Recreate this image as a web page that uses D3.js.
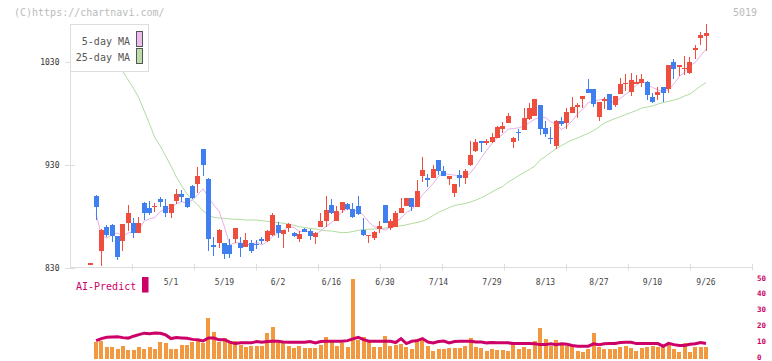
<!DOCTYPE html>
<html><head><meta charset="utf-8">
<script src="https://cdn.jsdelivr.net/npm/d3@7"></script>
<style>body{margin:0;background:#fff}svg{display:block}text{font-family:"DejaVu Sans Mono",monospace}</style>
</head><body><svg id="c" width="772" height="361"></svg>
<script>
const dates = ["4/9","4/10","4/11","4/14","4/15","4/16","4/17","4/18","4/21","4/22","4/23","4/24","4/25","4/28","4/30",
"5/1","5/2","5/7","5/8","5/9","5/12","5/13","5/14","5/15","5/16","5/19","5/20","5/21","5/22","5/23","5/26","5/27","5/28","5/29","5/30",
"6/2","6/3","6/4","6/5","6/6","6/9","6/10","6/11","6/12","6/13","6/16","6/17","6/18","6/19","6/20","6/23","6/24","6/25","6/26","6/27","6/30",
"7/1","7/2","7/3","7/4","7/7","7/8","7/9","7/10","7/11","7/14","7/15","7/16","7/17","7/18","7/22","7/23","7/24","7/25","7/28","7/29","7/30","7/31",
"8/1","8/4","8/5","8/6","8/7","8/8","8/12","8/13","8/14","8/15","8/18","8/19","8/20","8/21","8/22","8/25","8/26","8/27","8/28","8/29",
"9/1","9/2","9/3","9/4","9/5","9/8","9/9","9/10","9/11","9/12","9/16","9/17","9/18","9/19","9/22","9/24","9/25","9/26"];

const open = [832.8,899.9,846.8,869.5,871.7,861,856.5,874,873.7,864.3,893.4,888.5,889,896.7,890.2,
883.7,895.3,901.8,897.7,909.9,911.6,945.5,916.4,852.3,854,854,852.3,858.2,854.6,850.4,854.6,853.3,858.2,856.2,862,
871.7,863,868.5,864.3,858.2,867.9,865.9,860.4,870.1,875.6,891.2,876.1,886.3,892.1,887,890.2,866.9,861.5,858.8,867.9,891.2,
868.5,870.1,883.7,890.2,897.7,889.5,919.3,917.7,917.7,934.9,924.5,916.2,903.1,920.3,917.7,930,943.9,953.3,951.7,952.1,956.5,964.7,
971.1,952.8,962.3,964,974.4,977.9,988.3,966.3,956.5,948.7,972.7,971.1,980.9,986.6,994.1,1003.5,1003.5,976.9,992.4,998.9,
988.3,998.9,1009.5,1001.1,1008.6,1009.9,1010.9,995.7,998,1005.4,1003.8,1029.7,1025.5,1023.5,1019.1,1041.7,1053,1055.2];

const high = [834.6,900.5,867.5,871.7,872.7,861.5,873.2,890.7,878.3,879.2,893.8,895,893.4,899.4,896.7,
892.5,906.7,905.7,898.2,910.3,927.8,946,917,859.8,867.9,854.5,858.2,869,859.8,863.7,857.5,857,860.4,866.5,883.1,
875,867.2,874,865,866.2,868.5,867.9,864.6,883.7,899.9,896.7,890.2,894.5,893,893.4,900,878.5,862.5,865.5,875.6,891.5,
877.3,885.3,897.7,898.2,898,915.4,937.5,921,930,935.3,929,919.6,912,925.1,925.8,953.6,955,953.7,955.2,961.4,967.8,972,
980.8,957,964.7,985,990.5,994.5,988.7,972.7,967.2,973.5,976.3,985,996.3,990,997.4,1013.3,1004,991,995.7,999.3,
997.4,1014.2,1018.3,1019.6,1017.4,1018.3,1011.3,999.6,1006.1,1005.8,1027.5,1032.6,1027.5,1035.8,1035.2,1046.5,1059.5,1066.9];

const low = [832.8,876.6,832.2,859.8,855.7,837.8,846.8,866.4,859.5,864,876.6,881.5,884.4,889.2,879.8,
878.8,892.1,894.4,888,897,902.5,919.3,846.8,841.7,849.8,838.4,839.4,854,840.4,850,844.3,848.4,853.3,855.5,861.5,
858.8,849.8,865.2,860,855.6,864.5,857.2,853.3,869.8,870.1,882.8,875.8,883.7,886.5,878.8,881.8,861,854,857.2,864.3,873.4,
866.9,869.8,883.2,889.8,885.3,889,913.8,909,917.2,920.3,919.2,910.6,899.2,909,911.3,929.5,943,943,949.4,951.8,956,961,
970.5,946.8,953.6,963.5,974,977.5,959.1,956.9,950.4,945.2,968,964.7,980.5,975.9,985.6,1000,986.6,973,984.2,983,
986,998.5,1002.1,997,1008.2,1006,993.2,989.9,993.2,991.5,999.6,1013.3,1016.8,1017.4,1018.8,1032.6,1046.5,1041];

const close = [834.6,889.2,866.9,862,861,841,872.7,883.7,864.3,873.7,883.7,883.7,890,894,883.7,
892.1,901.8,899.2,888.9,897.7,919.3,930,858.2,850.4,866.9,843.3,843.6,868.5,849.8,857.2,846.8,852,856.2,865.9,881.5,
863.7,866.9,872.7,861.1,863,865.2,861.4,864.3,875.6,886.3,883.1,885.8,893.8,887.3,879.2,882.2,862,862,865.2,870.8,874,
875.9,883.1,888.5,897.7,889.5,904.8,925.1,915,925.8,924.5,919.6,919.3,911.6,917.7,924.2,939.7,952.1,951.7,953.3,957.5,967.2,968.2,
977.6,956.5,960.8,975.9,985.6,994.1,964.7,959.8,954.9,973.1,969.5,981.2,986.1,988.3,997,1000.2,989.2,990.7,994.1,983.4,
997,1008.6,1010,1012.5,1010.9,1013.2,998,991.5,1001.3,1000.2,1027.1,1023.2,1027.1,1024,1030.4,1043.4,1056.2,1058.4];

const ma5 = [null,882,862,859,
862.6,864.0,860.7,864.1,864.5,867.1,875.6,877.8,879.1,885.0,887.0,
888.7,892.3,894.2,893.1,895.9,901.4,907.0,898.8,891.1,885.0,869.8,852.5,854.5,854.4,852.5,853.2,854.9,852.4,855.6,860.5,
863.9,866.8,870.1,869.2,865.5,865.8,864.7,863.0,865.9,870.6,874.1,879.0,884.9,887.3,885.8,885.7,880.9,874.5,870.1,868.4,866.8,
869.6,873.8,878.5,883.8,886.9,892.7,901.1,906.4,912.0,919.0,922.0,920.8,920.2,918.5,918.5,922.5,929.1,937.1,944.2,950.9,956.4,959.6,
964.8,965.4,966.1,967.8,971.3,974.6,976.2,976.0,971.8,969.3,964.4,967.7,973.0,979.6,984.4,990.6,992.2,993.1,994.2,991.5,
990.9,994.8,998.6,1002.3,1007.8,1011.0,1008.9,1005.2,1003.0,1000.8,1003.6,1008.7,1015.8,1020.3,1026.4,1029.6,1036.2,1042.5];

const ma25 = [1056.2,1048.4,1040.7,1033.9,1028,1024.2,1020.8,1012.5,1004.3,995,982.4,969.8,956.2,948.4,938.7,
929,918.3,909.6,901.8,896,891.2,885.3,881.5,879.2,878.5,878.3,877.6,877.3,877.1,876.6,876.6,876.6,875.9,875.3,874.7,
874,873.4,872.7,871.3,870.1,869.3,868.5,867.9,866.9,866.2,865.9,865,864.3,864.5,865.4,866.6,867.2,867.6,867.9,868.3,868.8,
869.5,870.3,871,871.9,873.2,874.2,875.6,877.6,881,884.1,886.3,888.7,890.7,891.7,892.6,894.1,896,898.2,900.9,903.8,906.7,909.1,
913.5,916.4,919.8,922.7,925.6,929,934.9,938.3,942.2,946,948.9,951.8,954.3,956.2,958.6,960.6,963.5,966.9,970.8,973,
975.1,976.9,979,981,982.9,985.3,986.3,987.3,989.2,990.7,991.7,993.1,994.6,997,998.9,1002.8,1006.7,1010.1];

const volume = [null,840,875,560,560,460,625,425,425,560,475,560,475,840,775,
475,475,660,660,840,875,760,2010,1340,840,1010,790,875,675,590,625,625,625,1290,1575,
790,875,625,510,625,510,540,540,675,1075,925,625,760,590,3975,925,1075,875,590,590,1125,
625,675,740,590,475,975,910,625,390,475,475,525,525,525,625,1025,590,510,390,475,425,425,
375,840,475,590,475,875,1540,975,625,925,675,625,625,390,340,460,1290,560,475,475,
460,590,640,540,390,525,590,640,560,640,710,460,340,760,310,560,560,560];

const aiPredict = [null,10.6,11.9,12.7,12.9,13.1,12.5,12.2,13.4,14.4,15.3,15,15.4,15.2,14.2,
11.9,12.5,12.3,12.1,11.4,11.2,10.4,12.3,12.2,11.1,11.2,9.7,8.75,9.2,9.2,9.2,10,9.6,10,10.2,
10.2,9.7,9.6,9.6,9.6,9.6,10,9.2,10,10.2,10.2,10.2,10.2,10.6,11.7,12.7,11.2,10.2,10.2,10.2,10.2,
10.2,9.4,11.9,8.75,10.2,10.6,11.9,9.7,9.2,10,10.4,9.2,10,10.2,10.2,10.2,9.7,9.7,9.2,9.4,9.2,9.2,
9.2,8.75,8.75,8.75,8.75,8.6,8.1,8.1,8.6,8.1,8.6,8.3,7.5,7.1,7.1,7.1,8.6,8.1,8.6,8.75,
8.75,9.4,9.6,9.6,8.75,8.75,8.75,8.75,8.75,7.1,8.9,8.1,7.5,7.5,8.3,8.6,9.4,8.75];

const xLabels = ["5/1","5/19","6/2","6/16","6/30","7/14","7/29","8/13","8/27","9/10","9/26"];
const priceTicks = [830, 930, 1030];
const aiTicks = [0, 10, 20, 30, 40, 50];

const C = {up:"#ef4d3d", down:"#3f7ff0", ma5:"#e6b0e8", ma25:"#b2dba0", vol:"#f2983e", ai:"#cc0066", grid:"#dddddd"};

const svg = d3.select("#c");
const x = d3.scalePoint().domain(dates).range([90.75, 706]);
const y = d3.scaleLinear().domain([830, 1030]).range([268, 62]);
const yV = d3.scaleLinear().domain([0, 4000]).range([358.5, 278.5]);
const yA = d3.scaleLinear().domain([0, 50]).range([357.5, 278]);
const gridX = d3.scaleLinear().domain([0, 11]).range([70, 752]);

svg.append("text").attr("x", 14).attr("y", 15.5).attr("font-size", 10).attr("fill", "#bbb").text("(C)https://chartnavi.com/");
svg.append("text").attr("x", 757).attr("y", 15.5).attr("font-size", 10).attr("fill", "#bbb").attr("text-anchor", "end").text("5019");

svg.append("line").attr("x1", 70.5).attr("x2", 70.5).attr("y1", 24).attr("y2", 268).attr("stroke", C.grid);
svg.append("line").attr("x1", 70).attr("x2", 752).attr("y1", 267.5).attr("y2", 267.5).attr("stroke", C.grid);
svg.selectAll(".gt").data(d3.range(1, 12)).enter().append("line")
  .attr("x1", d => Math.round(gridX(d)) + 0.5).attr("x2", d => Math.round(gridX(d)) + 0.5)
  .attr("y1", 264).attr("y2", 270.5).attr("stroke", C.grid);
svg.selectAll(".yt").data(priceTicks).enter().append("line")
  .attr("x1", 65).attr("x2", 75).attr("y1", d => Math.round(y(d)) + 0.5).attr("y2", d => Math.round(y(d)) + 0.5).attr("stroke", C.grid);
svg.selectAll(".yl").data(priceTicks).enter().append("text")
  .attr("x", 59.5).attr("y", d => y(d) + 3).attr("text-anchor", "end").attr("font-size", 8).attr("fill", "#333").text(d => d);
svg.selectAll(".xl").data(xLabels).enter().append("text")
  .attr("x", d => x(d)).attr("y", 285).attr("text-anchor", "middle").attr("font-size", 8).attr("fill", "#444").text(d => d);

const lineOf = arr => d3.line().defined(d => arr[dates.indexOf(d)] != null)
  .x(d => x(d)).y(d => y(arr[dates.indexOf(d)]));
svg.append("path").attr("d", lineOf(ma25)(dates)).attr("fill", "none").attr("stroke", C.ma25).attr("stroke-width", 1);
svg.append("path").attr("d", lineOf(ma5)(dates)).attr("fill", "none").attr("stroke", C.ma5).attr("stroke-width", 1);

const cg = svg.append("g").attr("shape-rendering", "crispEdges");
dates.forEach((d, i) => {
  const cx = x(d), bx = Math.round(cx - 2.5), col = close[i] >= open[i] ? C.up : C.down;
  cg.append("line").attr("x1", bx + 2.5).attr("x2", bx + 2.5).attr("y1", y(high[i])).attr("y2", y(low[i])).attr("stroke", col);
  const top = y(Math.max(open[i], close[i])), bot = y(Math.min(open[i], close[i]));
  cg.append("rect").attr("x", bx).attr("width", 5).attr("y", top).attr("height", Math.max(1, bot - top)).attr("fill", col);
});

svg.append("rect").attr("x", 70.5).attr("y", 24.5).attr("width", 78).attr("height", 47).attr("fill", "#fff").attr("stroke", C.grid);
svg.append("text").attr("x", 130).attr("y", 44.5).attr("text-anchor", "end").attr("font-size", 10).attr("fill", "#555").text("5-day MA");
svg.append("text").attr("x", 130).attr("y", 61).attr("text-anchor", "end").attr("font-size", 10).attr("fill", "#555").text("25-day MA");
svg.append("rect").attr("x", 136.5).attr("y", 31.5).attr("width", 6).attr("height", 15).attr("fill", "#eebbee").attr("stroke", "#555");
svg.append("rect").attr("x", 136.5).attr("y", 48.5).attr("width", 6).attr("height", 15).attr("fill", "#bbddaa").attr("stroke", "#555");

svg.append("text").attr("x", 76).attr("y", 290).attr("font-size", 10).attr("fill", C.ai).text("AI-Predict");
svg.append("rect").attr("x", 142).attr("y", 277).attr("width", 6.5).attr("height", 15.5).attr("fill", C.ai);
svg.selectAll(".al").data(aiTicks).enter().append("text")
  .attr("x", 757).attr("y", d => yA(d) + 2.5).attr("font-size", 7.5).attr("font-weight", "bold").attr("fill", C.ai).text(d => d);

svg.append("g").attr("shape-rendering", "crispEdges").selectAll("rect")
  .data(dates.filter((d, i) => volume[i] != null)).enter().append("rect")
  .attr("x", d => Math.round(x(d) - 2)).attr("width", 4)
  .attr("y", d => yV(volume[dates.indexOf(d)]))
  .attr("height", d => yV(0) - yV(volume[dates.indexOf(d)]))
  .attr("fill", C.vol);

const aiLine = d3.line().defined(d => aiPredict[dates.indexOf(d)] != null)
  .x(d => x(d)).y(d => yA(aiPredict[dates.indexOf(d)]));
svg.append("path").attr("d", aiLine(dates)).attr("fill", "none").attr("stroke", C.ai).attr("stroke-width", 3);
</script></body></html>
